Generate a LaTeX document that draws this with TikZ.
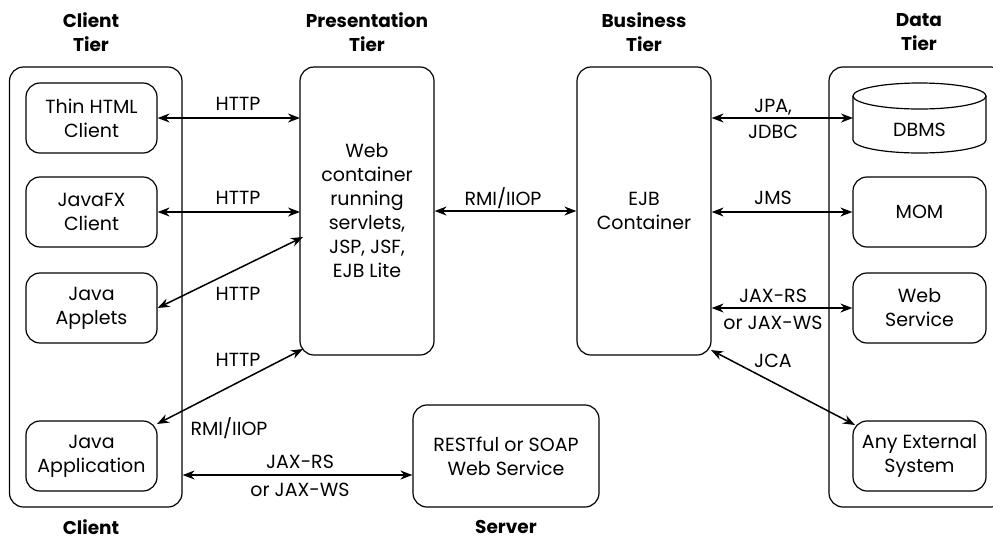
\documentclass[tikz,border=0pt]{standalone}
\usepackage{fontspec}
\setmainfont{Poppins}
\usetikzlibrary{arrows.meta}
\begin{document}
\begin{tikzpicture}[x=1pt,y=-1pt,
  every node/.style={font=\fontsize{19}{24}\selectfont, align=center, inner sep=0pt},
  box/.style={draw, line width=1.2pt, rounded corners=14pt},
  inbox/.style={box, minimum width=131pt, minimum height=70pt},
  title/.style={font=\fontsize{18.5}{24}\selectfont\bfseries},
  conn/.style={line width=1.5pt, {Stealth[length=12pt,width=9pt]}-{Stealth[length=12pt,width=9pt]}}
]
\useasboundingbox (0,0) rectangle (993,539);
\begin{scope}
\clip (0,0) rectangle (993,539);
% outer boxes
\node[box, minimum width=172.5pt, minimum height=440pt] (client) at (95.75,287) {};
\node[box, minimum width=176pt, minimum height=440pt] (data) at (917,287) {};
\end{scope}
% client tier nodes
\node[inbox] (thin) at (91.5,118) {Thin HTML\\Client};
\node[inbox] (fx) at (91.5,212) {JavaFX\\Client};
\node[inbox] (applets) at (91.5,308) {Java\\Applets};
\node[inbox] (app) at (91.5,456) {Java\\Application};
% presentation / business
\node[box, minimum width=134pt, minimum height=288pt] (pres) at (367,211) {Web\\container\\running\\servlets,\\JSP, JSF,\\EJB Lite};
\node[box, minimum width=134pt, minimum height=288pt] (ejb) at (644,211) {EJB\\Container};
% data tier
\draw[line width=1.2pt] (853,96) -- (853,140) arc[start angle=180,end angle=360,x radius=66.5pt,y radius=13pt] -- (986,96);
\draw[line width=1.2pt] (919.5,96) ellipse[x radius=66.5pt, y radius=13pt];
\node (dbms) at (919.5,130) {DBMS};
\coordinate (dbmsw) at (853,118);
\node[inbox, minimum width=133pt] (mom) at (919.5,212) {MOM};
\node[inbox, minimum width=133pt] (ws) at (919.5,308) {Web\\Service};
\node[inbox, minimum width=133pt] (ext) at (919.5,456) {Any External\\System};
% server
\node[box, minimum width=186pt, minimum height=102pt] (rest) at (506,456) {RESTful or SOAP\\Web Service};
% titles
\node[title] (t1) at (91,32) {Client\\Tier};
\node[title] (t2) at (367,32) {Presentation\\Tier};
\node[title] (t3) at (644,32) {Business\\Tier};
\node[title] (t4) at (919,32) {Data\\Tier};
\node[title] (b1) at (91,527) {Client};
\node[title] (b2) at (506,527) {Server};
% connectors
\coordinate (p1) at (300,118);
\coordinate (p2) at (300,212);
\coordinate (p3) at (303,237);
\coordinate (p4) at (303,349);
\coordinate (a4) at (157,424);
\coordinate (e4) at (711,350);
\coordinate (x4) at (855,425);
\draw[conn] (thin.east) -- (p1);
\draw[conn] (fx.east) -- (p2);
\draw[conn] (applets.east) -- (p3);
\draw[conn] (a4) -- (p4);
\draw[conn] (pres.east) -- (ejb.west);
\draw[conn] (ejb.east |- dbmsw) -- (dbmsw);
\draw[conn] (ejb.east |- mom.west) -- (mom.west);
\draw[conn] (ejb.east |- ws.west) -- (ws.west);
\draw[conn] (e4) -- (x4);
\draw[conn] (client.east |- 0,475) -- (rest.west |- 0,475);
% labels
\node (l1) at (238,104) {HTTP};
\node (l2) at (238,198) {HTTP};
\node (l3) at (238,294) {HTTP};
\node (l4) at (238,360) {HTTP};
\node (l5) at (229,428) {RMI/IIOP};
\node (l6) at (503,198) {RMI/IIOP};
\node (l7) at (773,107) {JPA,};
\node (l8) at (773,132) {JDBC};
\node (l9) at (773,198) {JMS};
\node (l10) at (773,296) {JAX-RS};
\node (l11) at (773,323) {or JAX-WS};
\node (l12) at (773,361) {JCA};
\node (l13) at (300,462) {JAX-RS};
\node (l14) at (300,490) {or JAX-WS};
\end{tikzpicture}
\end{document}
